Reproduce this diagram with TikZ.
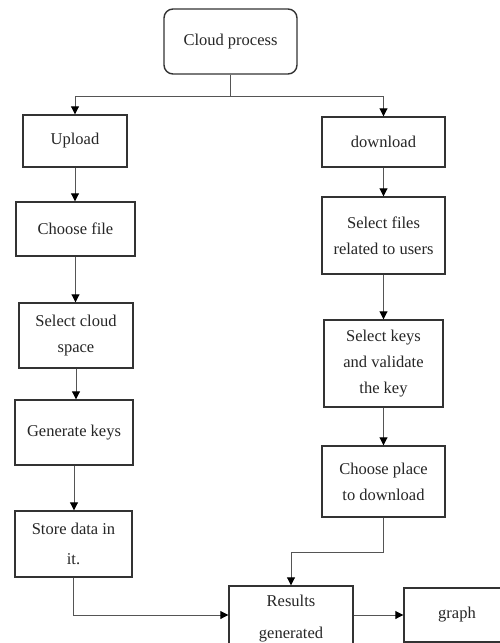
\documentclass[tikz,border=0pt]{standalone}
\usepackage{fontspec}
\setmainfont{Liberation Serif}
\usetikzlibrary{arrows.meta}
\definecolor{boxline}{HTML}{333333}
\definecolor{conn}{HTML}{555555}
\begin{document}
\begin{tikzpicture}[x=1pt,y=-1pt,
  box/.style={draw=boxline,line width=1.4pt,fill=white,align=center,inner sep=2pt,
    font=\fontsize{16.5}{26}\selectfont,text=black!85},
  link/.style={draw=conn,line width=0.9pt,-{Triangle[length=8pt,width=8pt,fill=black,color=black]}},
  plain/.style={draw=conn,line width=0.9pt}]
\useasboundingbox (0,0) rectangle (499,643);
\node[box,rounded corners=9pt,minimum width=133pt,minimum height=65pt] (cloud) at (230.5,41.5) {Cloud process};
\node[box,minimum width=104pt,minimum height=52pt] (upload) at (75,141) {Upload};
\node[box,minimum width=123pt,minimum height=50pt] (download) at (383.5,142) {download};
\node[box,minimum width=119pt,minimum height=54pt] (choose) at (75.5,229) {Choose file};
\node[box,minimum width=123pt,minimum height=77pt] (selfiles) at (383.5,235.5) {Select files\\related to users};
\node[box,minimum width=114pt,minimum height=65pt] (selcloud) at (76,335.5) {Select cloud\\space};
\node[box,minimum width=119pt,minimum height=87pt] (selkeys) at (383.5,363.5) {Select keys\\and validate\\the key};
\node[box,minimum width=118pt,minimum height=65pt] (genkeys) at (74,432.5) {Generate keys};
\node[box,minimum width=123pt,minimum height=71pt] (place) at (383.5,481.5) {Choose place\\to download};
\node[box,minimum width=117pt,minimum height=66pt] (store) at (73.5,544) {Store data in\\[4pt]it.};
\node[box,minimum width=124pt,minimum height=66pt] (results) at (291,619) {Results\\[6pt]generated};
\node[box,minimum width=106pt,minimum height=54pt] (graph) at (457,615) {graph};
\coordinate (split) at ([yshift=-22pt]cloud.south);
\draw[plain] (cloud.south) -- (split);
\draw[link] (split) -| (upload.north);
\draw[link] (split) -| (download.north);
\draw[link] (upload.south) -- (upload.south |- choose.north);
\draw[link] (choose.south) -- (choose.south |- selcloud.north);
\draw[link] (selcloud.south) -- (selcloud.south |- genkeys.north);
\draw[link] (genkeys.south) -- (genkeys.south |- store.north);
\draw[link] (download.south) -- (download.south |- selfiles.north);
\draw[link] (selfiles.south) -- (selfiles.south |- selkeys.north);
\draw[link] (selkeys.south) -- (selkeys.south |- place.north);
\coordinate (bend) at ([yshift=-35pt]place.south);
\draw[link] (place.south) -- (bend) -| (results.north);
\draw[link] (store.south) |- (results.west |- graph.west);
\draw[link] (results.east |- graph.west) -- (graph.west);
\end{tikzpicture}
\end{document}
